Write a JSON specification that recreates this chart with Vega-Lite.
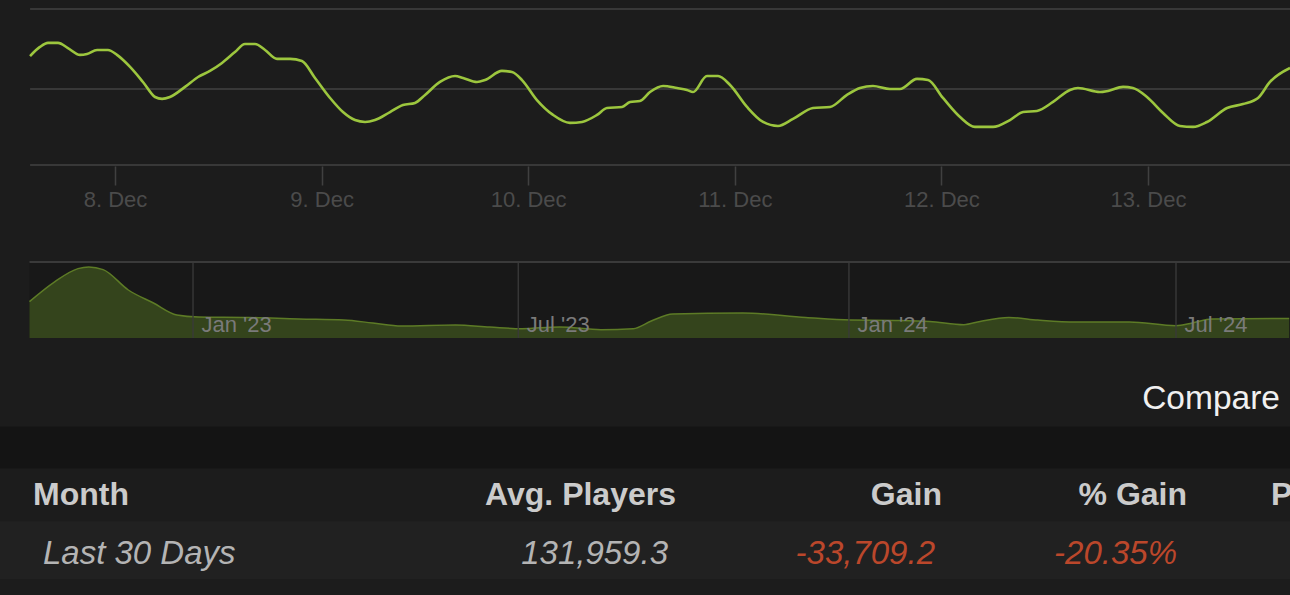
{
  "$schema": "https://vega.github.io/schema/vega-lite/v6.json",
  "background": "#1c1c1c",
  "padding": 0,
  "spacing": 0,
  "bounds": "flush",
  "config": {
    "view": {"stroke": null},
    "font": "Liberation Sans",
    "axis": {"labelFont": "Liberation Sans", "labelFlush": false}
  },
  "datasets": {
    "players": [
      {"time": "2024-12-07T14:08:00Z", "players": 120600},
      {"time": "2024-12-07T15:17:00Z", "players": 126300},
      {"time": "2024-12-07T16:13:00Z", "players": 128800},
      {"time": "2024-12-07T17:23:00Z", "players": 128800},
      {"time": "2024-12-07T18:32:00Z", "players": 125600},
      {"time": "2024-12-07T19:56:00Z", "players": 121300},
      {"time": "2024-12-07T20:45:00Z", "players": 121900},
      {"time": "2024-12-07T21:55:00Z", "players": 124400},
      {"time": "2024-12-07T23:11:00Z", "players": 124400},
      {"time": "2024-12-08T00:14:00Z", "players": 121300},
      {"time": "2024-12-08T01:45:00Z", "players": 113800},
      {"time": "2024-12-08T03:15:00Z", "players": 104400},
      {"time": "2024-12-08T04:39:00Z", "players": 95000},
      {"time": "2024-12-08T05:28:00Z", "players": 93800},
      {"time": "2024-12-08T06:23:00Z", "players": 95000},
      {"time": "2024-12-08T08:08:00Z", "players": 101300},
      {"time": "2024-12-08T09:39:00Z", "players": 107500},
      {"time": "2024-12-08T11:02:00Z", "players": 111300},
      {"time": "2024-12-08T12:26:00Z", "players": 116300},
      {"time": "2024-12-08T13:56:00Z", "players": 123100},
      {"time": "2024-12-08T15:06:00Z", "players": 128100},
      {"time": "2024-12-08T16:16:00Z", "players": 128100},
      {"time": "2024-12-08T17:26:00Z", "players": 124400},
      {"time": "2024-12-08T18:49:00Z", "players": 118800},
      {"time": "2024-12-08T20:20:00Z", "players": 118800},
      {"time": "2024-12-08T21:43:00Z", "players": 117500},
      {"time": "2024-12-08T23:14:00Z", "players": 106900},
      {"time": "2024-12-09T00:59:00Z", "players": 94400},
      {"time": "2024-12-09T02:29:00Z", "players": 85600},
      {"time": "2024-12-09T03:53:00Z", "players": 80600},
      {"time": "2024-12-09T05:03:00Z", "players": 79400},
      {"time": "2024-12-09T06:12:00Z", "players": 80600},
      {"time": "2024-12-09T07:57:00Z", "players": 85600},
      {"time": "2024-12-09T09:27:00Z", "players": 90000},
      {"time": "2024-12-09T10:51:00Z", "players": 91300},
      {"time": "2024-12-09T12:01:00Z", "players": 96300},
      {"time": "2024-12-09T13:45:00Z", "players": 104400},
      {"time": "2024-12-09T15:30:00Z", "players": 108100},
      {"time": "2024-12-09T16:26:00Z", "players": 106900},
      {"time": "2024-12-09T18:03:00Z", "players": 104400},
      {"time": "2024-12-09T18:59:00Z", "players": 105600},
      {"time": "2024-12-09T20:57:00Z", "players": 111300},
      {"time": "2024-12-09T22:07:00Z", "players": 110600},
      {"time": "2024-12-09T23:17:00Z", "players": 105600},
      {"time": "2024-12-10T01:01:00Z", "players": 93100},
      {"time": "2024-12-10T02:53:00Z", "players": 83800},
      {"time": "2024-12-10T04:51:00Z", "players": 78800},
      {"time": "2024-12-10T06:15:00Z", "players": 79400},
      {"time": "2024-12-10T08:00:00Z", "players": 83800},
      {"time": "2024-12-10T09:09:00Z", "players": 88100},
      {"time": "2024-12-10T10:54:00Z", "players": 88800},
      {"time": "2024-12-10T11:50:00Z", "players": 91900},
      {"time": "2024-12-10T12:59:00Z", "players": 92500},
      {"time": "2024-12-10T14:09:00Z", "players": 98100},
      {"time": "2024-12-10T15:40:00Z", "players": 101900},
      {"time": "2024-12-10T17:17:00Z", "players": 100600},
      {"time": "2024-12-10T18:27:00Z", "players": 99400},
      {"time": "2024-12-10T19:09:00Z", "players": 98100},
      {"time": "2024-12-10T20:46:00Z", "players": 108100},
      {"time": "2024-12-10T22:03:00Z", "players": 108100},
      {"time": "2024-12-10T23:27:00Z", "players": 102500},
      {"time": "2024-12-11T01:25:00Z", "players": 88800},
      {"time": "2024-12-11T03:17:00Z", "players": 79400},
      {"time": "2024-12-11T05:01:00Z", "players": 76900},
      {"time": "2024-12-11T06:46:00Z", "players": 81300},
      {"time": "2024-12-11T09:05:00Z", "players": 88100},
      {"time": "2024-12-11T11:04:00Z", "players": 88800},
      {"time": "2024-12-11T13:02:00Z", "players": 96300},
      {"time": "2024-12-11T14:33:00Z", "players": 100600},
      {"time": "2024-12-11T16:03:00Z", "players": 101900},
      {"time": "2024-12-11T18:02:00Z", "players": 100000},
      {"time": "2024-12-11T19:11:00Z", "players": 100000},
      {"time": "2024-12-11T21:10:00Z", "players": 106300},
      {"time": "2024-12-11T22:27:00Z", "players": 105600},
      {"time": "2024-12-12T00:11:00Z", "players": 94400},
      {"time": "2024-12-12T02:10:00Z", "players": 82500},
      {"time": "2024-12-12T03:54:00Z", "players": 76300},
      {"time": "2024-12-12T06:00:00Z", "players": 76300},
      {"time": "2024-12-12T07:58:00Z", "players": 80600},
      {"time": "2024-12-12T09:29:00Z", "players": 85600},
      {"time": "2024-12-12T11:06:00Z", "players": 86300},
      {"time": "2024-12-12T12:58:00Z", "players": 91900},
      {"time": "2024-12-12T14:56:00Z", "players": 99400},
      {"time": "2024-12-12T15:52:00Z", "players": 100600},
      {"time": "2024-12-12T18:25:00Z", "players": 98100},
      {"time": "2024-12-12T19:21:00Z", "players": 98800},
      {"time": "2024-12-12T21:06:00Z", "players": 101300},
      {"time": "2024-12-12T22:15:00Z", "players": 100600},
      {"time": "2024-12-12T23:53:00Z", "players": 95000},
      {"time": "2024-12-13T01:45:00Z", "players": 85000},
      {"time": "2024-12-13T03:43:00Z", "players": 76900},
      {"time": "2024-12-13T05:14:00Z", "players": 76300},
      {"time": "2024-12-13T06:51:00Z", "players": 79400},
      {"time": "2024-12-13T09:11:00Z", "players": 88100},
      {"time": "2024-12-13T11:02:00Z", "players": 90600},
      {"time": "2024-12-13T12:47:00Z", "players": 94400},
      {"time": "2024-12-13T14:10:00Z", "players": 104400},
      {"time": "2024-12-13T16:30:00Z", "players": 113100}
    ],
    "history": [
      {"date": "2022-10-02", "players": 182000},
      {"date": "2022-10-16", "players": 281000},
      {"date": "2022-10-29", "players": 347000},
      {"date": "2022-11-04", "players": 355000},
      {"date": "2022-11-12", "players": 342000},
      {"date": "2022-11-26", "players": 240000},
      {"date": "2022-12-10", "players": 175000},
      {"date": "2022-12-23", "players": 115000},
      {"date": "2023-01-04", "players": 105000},
      {"date": "2023-02-01", "players": 102500},
      {"date": "2023-03-01", "players": 95000},
      {"date": "2023-03-26", "players": 90000},
      {"date": "2023-04-11", "players": 75000},
      {"date": "2023-04-27", "players": 60000},
      {"date": "2023-05-27", "players": 65000},
      {"date": "2023-06-15", "players": 55000},
      {"date": "2023-07-03", "players": 46500},
      {"date": "2023-07-24", "players": 55000},
      {"date": "2023-08-16", "players": 41500},
      {"date": "2023-09-03", "players": 46500},
      {"date": "2023-09-13", "players": 85000},
      {"date": "2023-09-25", "players": 120000},
      {"date": "2023-11-03", "players": 125000},
      {"date": "2023-12-08", "players": 102500},
      {"date": "2024-01-02", "players": 90000},
      {"date": "2024-01-27", "players": 88000},
      {"date": "2024-02-15", "players": 83000},
      {"date": "2024-03-05", "players": 66500},
      {"date": "2024-03-14", "players": 83000},
      {"date": "2024-03-30", "players": 102500},
      {"date": "2024-04-15", "players": 90000},
      {"date": "2024-05-06", "players": 80000},
      {"date": "2024-06-05", "players": 80000},
      {"date": "2024-07-01", "players": 61500},
      {"date": "2024-07-10", "players": 75000},
      {"date": "2024-07-21", "players": 95000},
      {"date": "2024-09-02", "players": 97500}
    ],
    "cells": [
      {"row": "compare", "column": "Compare", "text": "Compare"},
      {"row": "header", "column": "Month", "text": "Month"},
      {"row": "header", "column": "Avg. Players", "text": "Avg. Players"},
      {"row": "header", "column": "Gain", "text": "Gain"},
      {"row": "header", "column": "% Gain", "text": "% Gain"},
      {"row": "header", "column": "Peak Players", "text": "Peak Players"},
      {"row": "data", "column": "Month", "text": "Last 30 Days"},
      {"row": "data", "column": "Avg. Players", "text": "131,959.3"},
      {"row": "data", "column": "Gain", "text": "-33,709.2"},
      {"row": "data", "column": "% Gain", "text": "-20.35%"}
    ]
  },
  "vconcat": [
    {
      "width": 1290,
      "height": 166,
      "layer": [
        {
          "data": {"values": [{"level": 100000}, {"level": 150000}, {"level": 52500}]},
          "mark": {"type": "rule", "color": "#383838", "strokeWidth": 2, "clip": true},
          "encoding": {
            "y": {"field": "level", "type": "quantitative", "scale": {"domain": [51875, 155625], "nice": false, "zero": false}, "axis": null},
            "x": {"datum": 1733580480000, "type": "temporal",
                  "scale": {"type": "utc", "nice": false, "domain": [1733567910000, 1734107385000]},
                  "axis": {"title": null, "values": [1733616000000, 1733702400000, 1733788800000, 1733875200000, 1733961600000, 1734048000000], "labelExpr": "utcFormat(datum.value, '%-d. %b')", "domain": false, "grid": false, "ticks": true, "tickSize": 19, "tickColor": "#404040", "tickWidth": 1.5, "labelColor": "#4b4b4b", "labelFontSize": 22, "labelPadding": 4, "labelFlush": false, "labelOverlap": false}},
            "x2": {"datum": 1734107385000}
          }
        },
        {
          "data": {"name": "players"},
          "mark": {"type": "line", "color": "#9cc63e", "strokeWidth": 2.6, "interpolate": "monotone", "clip": true},
          "encoding": {
            "x": {"field": "time", "type": "temporal",
                  "scale": {"type": "utc", "nice": false, "domain": [1733567910000, 1734107385000]},
                  "axis": {"title": null, "values": [1733616000000, 1733702400000, 1733788800000, 1733875200000, 1733961600000, 1734048000000], "labelExpr": "utcFormat(datum.value, '%-d. %b')", "domain": false, "grid": false, "ticks": true, "tickSize": 19, "tickColor": "#404040", "tickWidth": 1.5, "labelColor": "#4b4b4b", "labelFontSize": 22, "labelPadding": 4, "labelFlush": false, "labelOverlap": false}},
            "y": {"field": "players", "type": "quantitative", "scale": {"domain": [51875, 155625], "nice": false, "zero": false}, "axis": null}
          }
        }
      ]
    },
    {
      "width": 1290,
      "height": 172,
      "layer": [
        {
          "data": {"values": [{}]},
          "mark": {"type": "rect", "color": "#181818"},
          "encoding": {
            "x": {"datum": 1664668800000, "type": "temporal",
                  "scale": {"type": "utc", "nice": false, "domain": [1663251840000, 1725273240000]},
                  "axis": {"title": null, "values": [1672531200000, 1688169600000, 1704067200000, 1719792000000], "labelExpr": "utcFormat(datum.value, \"%b '%y\")", "domain": false, "grid": false, "ticks": false, "tickSize": 0, "labelAlign": "left", "labelBaseline": "alphabetic", "labelPadding": -7, "labelOffset": 8, "labelFontSize": 22, "labelColor": "#7a7a7a", "labelFlush": false, "labelOverlap": false, "labelBound": false, "zindex": 1}},
            "x2": {"datum": 1725273240000},
            "y": {"datum": 0, "type": "quantitative", "scale": {"domain": [0, 860000], "nice": false}, "axis": null},
            "y2": {"datum": 380000}
          }
        },
        {
          "data": {"name": "history"},
          "mark": {"type": "area", "color": "#34441c", "opacity": 1, "interpolate": "monotone", "clip": true},
          "encoding": {
            "x": {"field": "date", "type": "temporal",
                  "scale": {"type": "utc", "nice": false, "domain": [1663251840000, 1725273240000]},
                  "axis": {"title": null, "values": [1672531200000, 1688169600000, 1704067200000, 1719792000000], "labelExpr": "utcFormat(datum.value, \"%b '%y\")", "domain": false, "grid": false, "ticks": false, "tickSize": 0, "labelAlign": "left", "labelBaseline": "alphabetic", "labelPadding": -7, "labelOffset": 8, "labelFontSize": 22, "labelColor": "#7a7a7a", "labelFlush": false, "labelOverlap": false, "labelBound": false, "zindex": 1}},
            "y": {"field": "players", "type": "quantitative", "scale": {"domain": [0, 860000], "nice": false}, "axis": null}
          }
        },
        {
          "data": {"name": "history"},
          "mark": {"type": "line", "color": "#5d7b26", "strokeWidth": 1.5, "interpolate": "monotone", "clip": true},
          "encoding": {
            "x": {"field": "date", "type": "temporal",
                  "scale": {"type": "utc", "nice": false, "domain": [1663251840000, 1725273240000]},
                  "axis": {"title": null, "values": [1672531200000, 1688169600000, 1704067200000, 1719792000000], "labelExpr": "utcFormat(datum.value, \"%b '%y\")", "domain": false, "grid": false, "ticks": false, "tickSize": 0, "labelAlign": "left", "labelBaseline": "alphabetic", "labelPadding": -7, "labelOffset": 8, "labelFontSize": 22, "labelColor": "#7a7a7a", "labelFlush": false, "labelOverlap": false, "labelBound": false, "zindex": 1}},
            "y": {"field": "players", "type": "quantitative", "scale": {"domain": [0, 860000], "nice": false}, "axis": null}
          }
        },
        {
          "data": {"values": [{"tick": "2023-01-01"}, {"tick": "2023-07-01"}, {"tick": "2024-01-01"}, {"tick": "2024-07-01"}]},
          "mark": {"type": "rule", "color": "#3a3a3a", "strokeWidth": 1.5, "opacity": 0.9},
          "encoding": {
            "x": {"field": "tick", "type": "temporal",
                  "scale": {"type": "utc", "nice": false, "domain": [1663251840000, 1725273240000]},
                  "axis": {"title": null, "values": [1672531200000, 1688169600000, 1704067200000, 1719792000000], "labelExpr": "utcFormat(datum.value, \"%b '%y\")", "domain": false, "grid": false, "ticks": false, "tickSize": 0, "labelAlign": "left", "labelBaseline": "alphabetic", "labelPadding": -7, "labelOffset": 8, "labelFontSize": 22, "labelColor": "#7a7a7a", "labelFlush": false, "labelOverlap": false, "labelBound": false, "zindex": 1}},
            "y": {"datum": 0, "type": "quantitative", "scale": {"domain": [0, 860000], "nice": false}, "axis": null},
            "y2": {"datum": 380000}
          }
        },
        {
          "data": {"values": [{}]},
          "mark": {"type": "rule", "color": "#3a3a3a", "strokeWidth": 2, "clip": true},
          "encoding": {
            "x": {"datum": 1664668800000, "type": "temporal",
                  "scale": {"type": "utc", "nice": false, "domain": [1663251840000, 1725273240000]},
                  "axis": {"title": null, "values": [1672531200000, 1688169600000, 1704067200000, 1719792000000], "labelExpr": "utcFormat(datum.value, \"%b '%y\")", "domain": false, "grid": false, "ticks": false, "tickSize": 0, "labelAlign": "left", "labelBaseline": "alphabetic", "labelPadding": -7, "labelOffset": 8, "labelFontSize": 22, "labelColor": "#7a7a7a", "labelFlush": false, "labelOverlap": false, "labelBound": false, "zindex": 1}},
            "x2": {"datum": 1725273240000},
            "y": {"datum": 380000, "type": "quantitative", "scale": {"domain": [0, 860000], "nice": false}, "axis": null}
          }
        }
      ]
    },
    {
      "width": 1290,
      "height": 257,
      "resolve": {"scale": {"x": "independent"}},
      "layer": [
        {
          "data": {"values": [{"row": "band"}]},
          "mark": {"type": "rect", "color": "#141414", "height": {"band": 0.82}},
          "encoding": {
            "y": {"field": "row", "type": "nominal", "scale": {"type": "band", "domain": ["compare", "band", "header", "data"], "paddingInner": 0, "paddingOuter": 0.5068, "align": 0.629}, "axis": null}
          }
        },
        {
          "data": {"values": [{"row": "data"}]},
          "mark": {"type": "rect", "color": "#212121", "height": {"band": 1.13}},
          "encoding": {
            "y": {"field": "row", "type": "nominal", "scale": {"type": "band", "domain": ["compare", "band", "header", "data"], "paddingInner": 0, "paddingOuter": 0.5068, "align": 0.629}, "axis": null}
          }
        },
        {
          "data": {"name": "cells"},
          "transform": [{"filter": "datum.row === 'compare'"}],
          "mark": {"type": "text", "align": "right", "baseline": "middle", "fontSize": 33.5, "color": "#f0f0f0", "font": "Liberation Sans"},
          "encoding": {
            "x": {"field": "column", "type": "nominal", "scale": {"type": "point", "domain": ["Compare"], "align": 0.9922}, "axis": null},
            "y": {"field": "row", "type": "nominal", "bandPosition": 0.545, "scale": {"type": "band", "domain": ["compare", "band", "header", "data"], "paddingInner": 0, "paddingOuter": 0.5068, "align": 0.629}, "axis": null},
            "text": {"field": "text"}
          }
        },
        {
          "data": {"name": "cells"},
          "transform": [{"filter": "datum.row === 'header' && datum.column === 'Month'"}],
          "mark": {"type": "text", "align": "left", "baseline": "middle", "fontSize": 32, "fontWeight": "bold", "color": "#cbcbcb", "font": "Liberation Sans"},
          "encoding": {
            "x": {"field": "column", "type": "nominal", "scale": {"type": "point", "domain": ["Month"], "align": 0.0256}, "axis": null},
            "y": {"field": "row", "type": "nominal", "bandPosition": 0.42, "scale": {"type": "band", "domain": ["compare", "band", "header", "data"], "paddingInner": 0, "paddingOuter": 0.5068, "align": 0.629}, "axis": null},
            "text": {"field": "text"}
          }
        },
        {
          "data": {"name": "cells"},
          "transform": [{"filter": "datum.row === 'header'"}, {"filter": {"field": "column", "oneOf": ["Avg. Players", "% Gain"]}}],
          "mark": {"type": "text", "align": "right", "baseline": "middle", "fontSize": 32, "fontWeight": "bold", "color": "#cbcbcb", "font": "Liberation Sans"},
          "encoding": {
            "x": {"field": "column", "type": "nominal", "scale": {"type": "point", "domain": ["Avg. Players", "% Gain"], "padding": 0, "range": [676, 1187]}, "axis": null},
            "y": {"field": "row", "type": "nominal", "bandPosition": 0.42, "scale": {"type": "band", "domain": ["compare", "band", "header", "data"], "paddingInner": 0, "paddingOuter": 0.5068, "align": 0.629}, "axis": null},
            "text": {"field": "text"}
          }
        },
        {
          "data": {"name": "cells"},
          "transform": [{"filter": "datum.row === 'header' && datum.column === 'Gain'"}],
          "mark": {"type": "text", "align": "right", "baseline": "middle", "fontSize": 32, "fontWeight": "bold", "color": "#cbcbcb", "font": "Liberation Sans"},
          "encoding": {
            "x": {"field": "column", "type": "nominal", "scale": {"type": "point", "domain": ["Gain"], "align": 0.7302}, "axis": null},
            "y": {"field": "row", "type": "nominal", "bandPosition": 0.42, "scale": {"type": "band", "domain": ["compare", "band", "header", "data"], "paddingInner": 0, "paddingOuter": 0.5068, "align": 0.629}, "axis": null},
            "text": {"field": "text"}
          }
        },
        {
          "data": {"name": "cells"},
          "transform": [{"filter": "datum.row === 'header' && datum.column === 'Peak Players'"}],
          "mark": {"type": "text", "align": "left", "baseline": "middle", "fontSize": 32, "fontWeight": "bold", "color": "#cbcbcb", "font": "Liberation Sans", "limit": 25, "ellipsis": "\u200b", "clip": true},
          "encoding": {
            "x": {"field": "column", "type": "nominal", "scale": {"type": "point", "domain": ["Peak Players"], "align": 0.9853}, "axis": null},
            "y": {"field": "row", "type": "nominal", "bandPosition": 0.42, "scale": {"type": "band", "domain": ["compare", "band", "header", "data"], "paddingInner": 0, "paddingOuter": 0.5068, "align": 0.629}, "axis": null},
            "text": {"field": "text"}
          }
        },
        {
          "data": {"name": "cells"},
          "transform": [{"filter": "datum.row === 'data' && datum.column === 'Month'"}],
          "mark": {"type": "text", "align": "left", "baseline": "middle", "fontSize": 33, "fontStyle": "italic", "color": "#b4b4b4", "font": "Liberation Sans"},
          "encoding": {
            "x": {"field": "column", "type": "nominal", "scale": {"type": "point", "domain": ["Month"], "align": 0.0333}, "axis": null},
            "y": {"field": "row", "type": "nominal", "bandPosition": 0.57, "scale": {"type": "band", "domain": ["compare", "band", "header", "data"], "paddingInner": 0, "paddingOuter": 0.5068, "align": 0.629}, "axis": null},
            "text": {"field": "text"}
          }
        },
        {
          "data": {"name": "cells"},
          "transform": [{"filter": "datum.row === 'data'"}, {"filter": {"field": "column", "oneOf": ["Avg. Players", "% Gain"]}}],
          "mark": {"type": "text", "align": "right", "baseline": "middle", "fontSize": 33, "fontStyle": "italic", "font": "Liberation Sans"},
          "encoding": {
            "x": {"field": "column", "type": "nominal", "scale": {"type": "point", "domain": ["Avg. Players", "% Gain"], "padding": 0, "range": [668, 1177]}, "axis": null},
            "y": {"field": "row", "type": "nominal", "bandPosition": 0.57, "scale": {"type": "band", "domain": ["compare", "band", "header", "data"], "paddingInner": 0, "paddingOuter": 0.5068, "align": 0.629}, "axis": null},
            "text": {"field": "text"},
            "color": {"condition": {"test": "datum.column === 'Avg. Players'", "value": "#b4b4b4"}, "value": "#bb472b"}
          }
        },
        {
          "data": {"name": "cells"},
          "transform": [{"filter": "datum.row === 'data' && datum.column === 'Gain'"}],
          "mark": {"type": "text", "align": "right", "baseline": "middle", "fontSize": 33, "fontStyle": "italic", "color": "#bb472b", "font": "Liberation Sans"},
          "encoding": {
            "x": {"field": "column", "type": "nominal", "scale": {"type": "point", "domain": ["Gain"], "align": 0.7248}, "axis": null},
            "y": {"field": "row", "type": "nominal", "bandPosition": 0.57, "scale": {"type": "band", "domain": ["compare", "band", "header", "data"], "paddingInner": 0, "paddingOuter": 0.5068, "align": 0.629}, "axis": null},
            "text": {"field": "text"}
          }
        }
      ]
    }
  ]
}
